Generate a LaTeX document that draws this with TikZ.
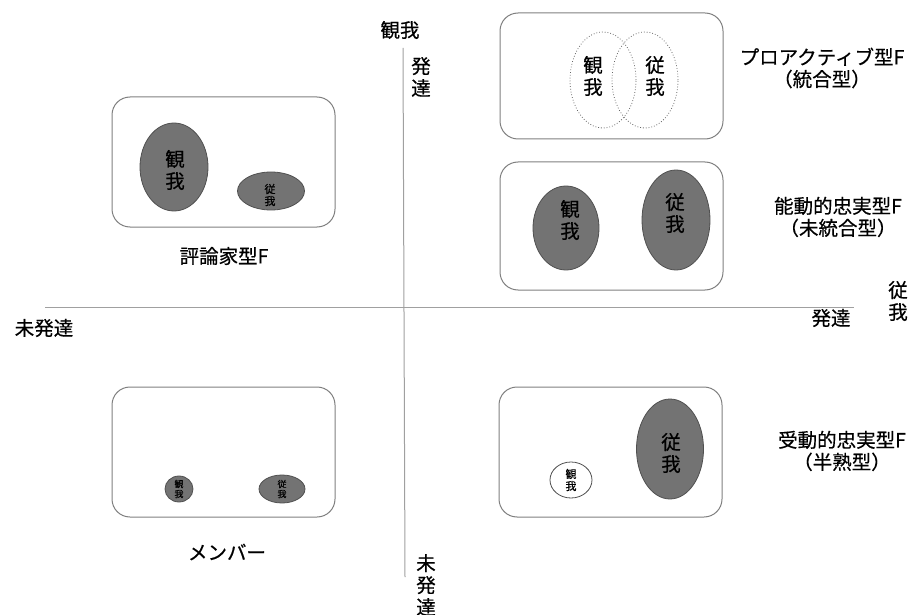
\documentclass[tikz,border=0pt]{standalone}
\usepackage{fontspec}
\setmainfont{Noto Sans CJK JP}[FakeBold=0.5]
\usetikzlibrary{shapes.geometric}
\definecolor{efill}{HTML}{737373}
\definecolor{eline}{HTML}{505050}
\definecolor{bline}{HTML}{7F7F7F}
\definecolor{aline}{HTML}{A0A0A0}
\begin{document}
\begin{tikzpicture}[x=1pt,y=-1pt,
  frame/.style={draw=bline, line width=1pt, rounded corners=18pt, inner sep=0pt,
    minimum width=223pt, minimum height=#1},
  egg/.style={ellipse, draw=eline, line width=0.8pt, fill=efill, inner sep=0pt},
  dotegg/.style={ellipse, draw=black!60, dotted, line width=0.8pt, inner sep=0pt},
  whiteegg/.style={ellipse, draw=eline, line width=0.8pt, fill=white, inner sep=0pt},
  lbl/.style={font=\fontsize{19.5}{22}\selectfont, inner sep=0pt, align=center},
  small/.style={font=\fontsize{11}{12}\selectfont, inner sep=0pt, align=center},
  tiny/.style={font=\fontsize{9}{10}\selectfont, inner sep=0pt, align=center},
  axis/.style={draw=aline, line width=1pt}]
\useasboundingbox (0,0) rectangle (919,615);

% axes
\coordinate (hl) at (45,307);
\coordinate (hr) at (854,307);
\coordinate (vt) at (403,48);
\coordinate (vb) at (405,577);
\draw[axis] (hl) -- (hr);
\draw[axis] (vt) -- (vb);

% axis labels
\node[lbl] (top) at (400,30) {観我};
\node[lbl] (topdev) at (421,77) {発\\達};
\node[lbl] (botdev) at (426,585) {未\\発\\達};
\node[lbl] (leftdev) at (44,328) {未発達};
\node[lbl] (rightdev) at (831,318) {発達};
\node[lbl] (right) at (898,301) {従\\我};

% top-right box: proactive
\node[frame=126pt] (b1) at (611.5,76) {};
\node[dotegg, minimum width=66pt, minimum height=96pt] (b1l) at (603,80) {};
\node[dotegg, minimum width=66pt, minimum height=96pt] (b1r) at (645,80) {};
\node[lbl] (b1lt) at (593,76) {観\\我};
\node[lbl] (b1rt) at (655,76) {従\\我};
\node[lbl] (l1) at (822,68) {プロアクティブ型F\\（統合型）};

% middle-right box
\node[frame=128pt] (b2) at (611.5,226) {};
\node[egg, minimum width=66pt, minimum height=84pt] (b2l) at (566,228) {};
\node[egg, minimum width=68pt, minimum height=100pt] (b2r) at (676,220) {};
\node[lbl] (b2lt) at (570,220) {観\\我};
\node[lbl] (b2rt) at (675,213) {従\\我};
\node[lbl] (l2) at (838,217) {能動的忠実型F\\（未統合型）};

% left-top box
\node[frame=130pt] (b3) at (223.5,162) {};
\node[egg, minimum width=68pt, minimum height=88pt] (b3l) at (174,167) {};
\node[egg, minimum width=67pt, minimum height=38pt] (b3r) at (271,191) {};
\node[lbl] (b3lt) at (175,170) {観\\我};
\node[small] (b3rt) at (270,195) {従\\我};
\node[lbl] (l3) at (224,256) {評論家型F};

% bottom-left box
\node[frame=130pt] (b4) at (223.5,452) {};
\node[egg, minimum width=28pt, minimum height=26pt] (b4l) at (179,489) {};
\node[egg, minimum width=46pt, minimum height=28pt] (b4r) at (282,489) {};
\node[tiny] (b4lt) at (179,489) {観\\我};
\node[tiny] (b4rt) at (282,489) {従\\我};
\node[lbl] (l4) at (227,552) {メンバー};

% bottom-right box
\node[frame=130pt] (b5) at (610.5,452) {};
\node[egg, minimum width=67pt, minimum height=100pt] (b5r) at (670,449) {};
\node[whiteegg, minimum width=42pt, minimum height=36pt] (b5l) at (571,480) {};
\node[lbl] (b5rt) at (671,453) {従\\我};
\node[small] (b5lt) at (571,480) {観\\我};
\node[lbl] (l5) at (842,451) {受動的忠実型F\\（半熟型）};
\end{tikzpicture}
\end{document}
